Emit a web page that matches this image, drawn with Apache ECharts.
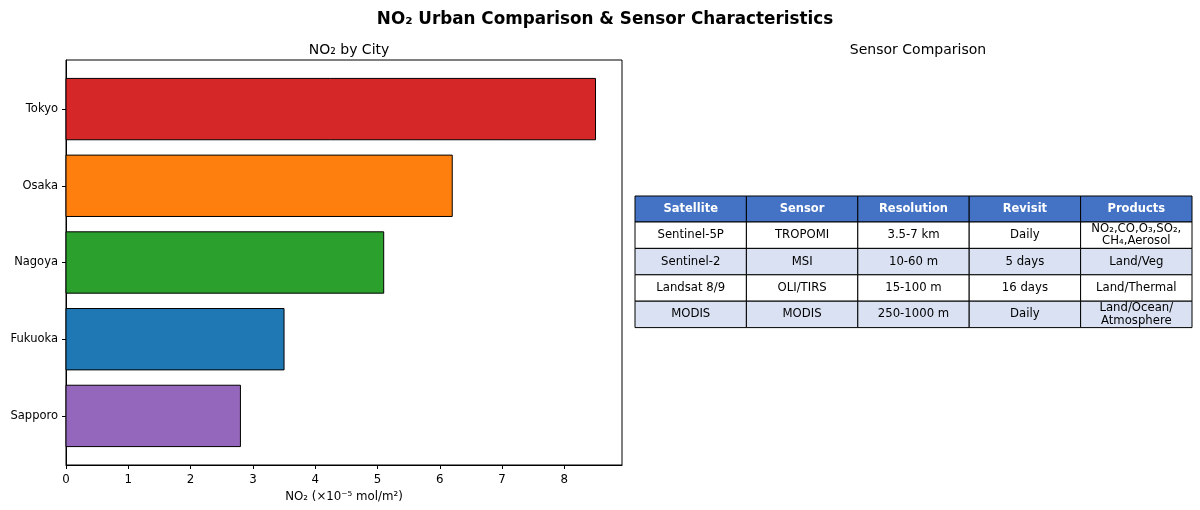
<!DOCTYPE html>
<html><head><meta charset="utf-8">
<script src="https://cdn.jsdelivr.net/npm/echarts@6/dist/echarts.min.js"></script>
<style>html,body{margin:0;padding:0;background:#fff}#c{width:1200px;height:510px}</style>
</head><body><div id="c"></div>
<script>
const cities = ['Tokyo', 'Osaka', 'Nagoya', 'Fukuoka', 'Sapporo'];
const no2Values = [8.5, 6.2, 5.1, 3.5, 2.8];
const barColors = ['#d62728', '#ff7f0e', '#2ca02c', '#1f77b4', '#9467bd'];
const xTicks = [0, 1, 2, 3, 4, 5, 6, 7, 8];

const tableHeaders = ['Satellite', 'Sensor', 'Resolution', 'Revisit', 'Products'];
const satellites = ['Sentinel-5P', 'Sentinel-2', 'Landsat 8/9', 'MODIS'];
const sensors = ['TROPOMI', 'MSI', 'OLI/TIRS', 'MODIS'];
const resolutions = ['3.5-7 km', '10-60 m', '15-100 m', '250-1000 m'];
const revisits = ['Daily', '5 days', '16 days', 'Daily'];
const products = ['NO₂,CO,O₃,SO₂,\nCH₄,Aerosol', 'Land/Veg', 'Land/Thermal', 'Land/Ocean/\nAtmosphere'];

const FONT = 'DejaVu Sans';
const chart = echarts.init(document.getElementById('c'), null, {renderer: 'canvas'});

// table graphic
const tLeft = 635, tRight = 1192, tTop = 196;
const colW = (tRight - tLeft) / 5;
const headH = 26, rowH = 26.4;
const graphics = [];
const columns = [satellites, sensors, resolutions, revisits, products];
for (let c = 0; c < 5; c++) {
  graphics.push({type: 'rect', shape: {x: tLeft + c * colW, y: tTop, width: colW, height: headH},
    style: {fill: '#4472C4', stroke: '#000', lineWidth: 1}});
  graphics.push({type: 'text', x: tLeft + c * colW + colW / 2, y: tTop + headH / 2,
    style: {text: tableHeaders[c], fill: '#fff', font: 'bold 11.5px "' + FONT + '"', align: 'center', verticalAlign: 'middle'}});
}
for (let r = 0; r < satellites.length; r++) {
  const y = tTop + headH + r * rowH;
  for (let c = 0; c < 5; c++) {
    graphics.push({type: 'rect', shape: {x: tLeft + c * colW, y: y, width: colW, height: rowH},
      style: {fill: r % 2 === 1 ? '#D9E1F2' : '#ffffff', stroke: '#000', lineWidth: 1}});
    graphics.push({type: 'text', x: tLeft + c * colW + colW / 2, y: y + rowH / 2,
      style: {text: columns[c][r], fill: '#000', font: '11.7px "' + FONT + '"', align: 'center', verticalAlign: 'middle', lineHeight: 12.5}});
  }
}

const option = {
  animation: false,
  backgroundColor: '#fff',
  textStyle: {fontFamily: FONT},
  title: [
    {text: 'NO₂ Urban Comparison & Sensor Characteristics', left: 600, textAlign: 'center', top: 6,
      textStyle: {fontFamily: FONT, fontSize: 16.8, fontWeight: 'bold', color: '#000'}},
    {text: 'NO₂ by City', left: 344, textAlign: 'center', top: 38,
      textStyle: {fontFamily: FONT, fontSize: 14, fontWeight: 'normal', color: '#000'}},
    {text: 'Sensor Comparison', left: 913, textAlign: 'center', top: 38,
      textStyle: {fontFamily: FONT, fontSize: 14, fontWeight: 'normal', color: '#000'}}
  ],
  grid: {left: 66, right: 578, top: 60, bottom: 45, show: true, borderColor: '#000', borderWidth: 1, backgroundColor: 'transparent'},
  xAxis: {
    type: 'value', min: 0, max: 8.925, interval: 1,
    name: 'NO₂ (×10⁻⁵ mol/m²)', nameLocation: 'middle', nameGap: 26,
    nameTextStyle: {fontFamily: FONT, fontSize: 11.8, color: '#000'},
    axisLine: {show: true, onZero: false, lineStyle: {color: '#000', width: 1}},
    axisTick: {show: true, inside: false, length: 4, lineStyle: {color: '#000'}, customValues: xTicks},
    axisLabel: {fontFamily: FONT, fontSize: 11.8, color: '#000', margin: 9, customValues: xTicks},
    splitLine: {show: false}
  },
  yAxis: {
    type: 'value', inverse: true, min: -0.64, max: 4.64,
    axisLine: {show: true, onZero: false, lineStyle: {color: '#000', width: 1}},
    axisTick: {show: true, inside: false, length: 4, lineStyle: {color: '#000'}, customValues: [0, 1, 2, 3, 4]},
    axisLabel: {fontFamily: FONT, fontSize: 11.5, color: '#000', margin: 8, customValues: [0, 1, 2, 3, 4],
      formatter: v => cities[Math.round(v)] || ''},
    splitLine: {show: false}
  },
  series: [{
    type: 'custom',
    data: no2Values.map((v, i) => [v, i]),
    encode: {x: 0, y: 1},
    renderItem: function (params, api) {
      const idx = api.value(1), val = api.value(0);
      const s = api.coord([0, idx]);
      const e = api.coord([val, idx]);
      const h = Math.abs(api.size([0, 0.8])[1]);
      return {type: 'rect', shape: {x: s[0], y: s[1] - h / 2, width: e[0] - s[0], height: h},
        style: {fill: barColors[params.dataIndex], stroke: '#000', lineWidth: 1}};
    }
  }],
  graphic: graphics
};
chart.setOption(option);
</script></body></html>
